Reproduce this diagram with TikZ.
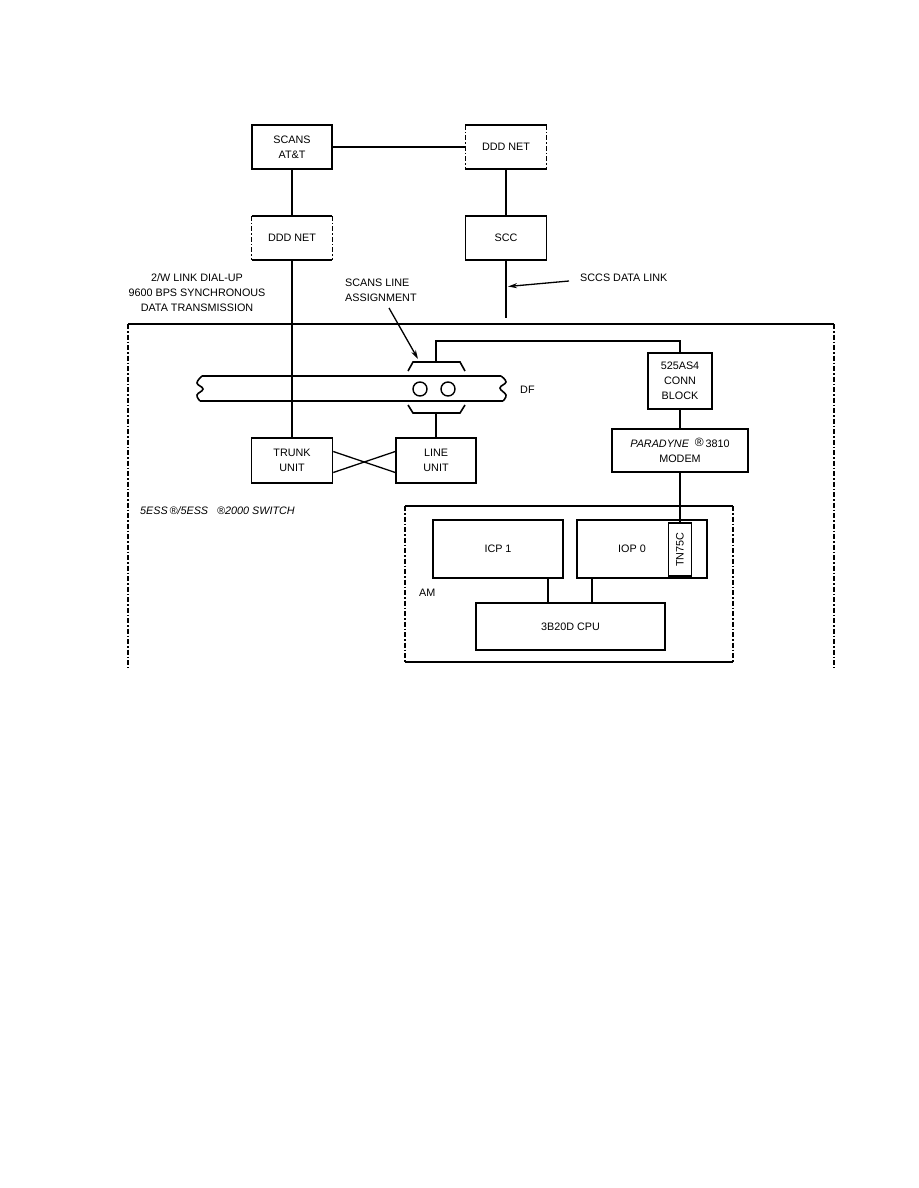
\documentclass[tikz,border=0pt]{standalone}
\usepackage{fontspec}
\setmainfont{Liberation Sans}
\usetikzlibrary{arrows.meta}
\begin{document}
\begin{tikzpicture}[x=1pt,y=-1pt,
  font=\fontsize{10.8}{15}\selectfont,
  box/.style={draw, line width=1.5pt, inner sep=1pt, align=center},
  openbox/.style={inner sep=1pt, align=center},
  conn/.style={line width=1.3pt},
  heavy/.style={line width=1.6pt},
  sidedash/.style={line width=1.3pt, dash pattern=on 5pt off 2pt on 1.5pt off 2pt},
  lbl/.style={inner sep=0pt, align=left},
  arr/.style={line width=1.3pt, -{Stealth[length=9pt,width=5pt]}}]
\useasboundingbox (0,0) rectangle (918,1188);

% top boxes
\node[box, minimum width=80pt, minimum height=44pt] (scans) at (292,147) {SCANS\\AT\&T};
\node[openbox, minimum width=81pt, minimum height=44pt] (ddda) at (506,147) {DDD NET};
\node[openbox, minimum width=80pt, minimum height=44pt] (dddb) at (292,238) {DDD NET};
\node[box, minimum width=81pt, minimum height=44pt] (scc) at (506,238) {SCC};
\foreach \n in {ddda,dddb}{
  \draw[heavy] (\n.north west) -- (\n.north east);
  \draw[heavy] (\n.south west) -- (\n.south east);
  \draw[sidedash] (\n.north west) -- (\n.south west);
  \draw[sidedash] (\n.north east) -- (\n.south east);
}
\coordinate (sccend) at (506,318);
\draw[conn] (scans.east) -- (ddda.west);
\draw[conn] (scans.south) -- (dddb.north);
\draw[conn] (ddda.south) -- (scc.north);
\draw[conn] (scc.south) -- (sccend);

% labels above switch
\node[lbl, align=center] (linklbl) at (197,293) {2/W LINK DIAL-UP\\9600 BPS SYNCHRONOUS\\DATA TRANSMISSION};
\node[lbl, anchor=west] (scanslbl) at (345,290.5) {SCANS LINE\\ASSIGNMENT};
\node[lbl, anchor=west] (sccslbl) at (580,278) {SCCS DATA LINK};
\coordinate (sccsarrs) at (569,281);
\coordinate (sccsarre) at (508,286.5);
\draw[arr] (sccsarrs) -- (sccsarre);
\coordinate (scansarrs) at (389,308);
\coordinate (scansarre) at (418,359);
\draw[arr] (scansarrs) -- (scansarre);

% outer switch frame
\coordinate (otl) at (128,324);
\coordinate (otr) at (834,324);
\coordinate (obl) at (128,668);
\coordinate (obr) at (834,668);
\draw[heavy] (otl) -- (otr);
\draw[sidedash] (otl) -- (obl);
\draw[sidedash] (otr) -- (obr);

% DF strip
\draw[heavy] (202,376) -- (501,376);
\draw[heavy] (200,401) -- (503,401);
\draw[heavy] plot[smooth, tension=0.7] coordinates {(202,376) (197,383) (203,389) (197,395) (200,401)};
\draw[heavy] plot[smooth, tension=0.7] coordinates {(501,376) (506,382) (500,388) (506,395) (503,401)};
\node[lbl, anchor=west] (dflbl) at (520,390) {DF};
\node[draw, circle, line width=1.4pt, minimum size=14pt, inner sep=0pt] (ca) at (420,389) {};
\node[draw, circle, line width=1.4pt, minimum size=14pt, inner sep=0pt] (cb) at (448,389) {};
% connector bracket
\draw[heavy] (408,371) -- (413,362) -- (460,362) -- (465,371);
\draw[heavy] (408,405) -- (413,413) -- (460,413) -- (465,405);
\coordinate (cbtop) at (436,362);
\coordinate (cbbot) at (436,413);

% trunk & line units
\node[box, minimum width=81pt, minimum height=45pt] (trunk) at (292,460.5) {TRUNK\\UNIT};
\node[box, minimum width=80pt, minimum height=45pt] (lineu) at (436,460.5) {LINE\\UNIT};
\draw[conn] (dddb.south) -- (trunk.north);
\draw[conn] (cbbot) -- (lineu.north);
\draw[conn] ([yshift=9pt]trunk.east) -- ([yshift=-12pt]lineu.west);
\draw[conn] ([yshift=-12pt]trunk.east) -- ([yshift=9pt]lineu.west);

% 525AS4 & modem
\node[box, minimum width=64pt, minimum height=56pt] (blk) at (680,381) {525AS4\\CONN\\BLOCK};
\node[box, minimum width=136pt, minimum height=43pt] (modem) at (680,450.5) {{\itshape PARADYNE}\ \ \raisebox{1pt}{\large ®}\,3810\\MODEM};
\draw[conn] (cbtop) -- ++(0,-21) -| (blk.north);
\draw[conn] (blk.south) -- (modem.north);

% switch label
\node[lbl, anchor=west] (swlbl) at (140,511) {\itshape 5ESS\,®/5ESS\ \ \ ®2000 SWITCH};

% AM frame
\coordinate (atl) at (405,506);
\coordinate (atr) at (733,506);
\coordinate (abl) at (405,662);
\coordinate (abr) at (733,662);
\draw[heavy] (atl) -- (atr);
\draw[heavy] (abl) -- (abr);
\draw[sidedash] (atl) -- (abl);
\draw[sidedash] (atr) -- (abr);
\node[lbl, anchor=west] (amlbl) at (419,593) {AM};

\node[box, minimum width=130pt, minimum height=58pt] (icp) at (498,549) {ICP 1};
\node[box, minimum width=130pt, minimum height=58pt] (iop) at (642,549) {};
\node[lbl] (ioplbl) at (632,549) {IOP 0};
\node[box, line width=1.2pt, minimum width=23pt, minimum height=53pt] (tn) at (680,549.5) {};
\node[lbl, rotate=90] (tnlbl) at (680,549.5) {TN75C};
\node[box, minimum width=189pt, minimum height=47pt] (cpu) at (570.5,626.5) {3B20D CPU};
\draw[conn] (modem.south) -- (tn.north);
\draw[conn] ([xshift=50pt]icp.south) -- ([xshift=50pt]icp.south |- cpu.north);
\draw[conn] ([xshift=-50pt]iop.south) -- ([xshift=-50pt]iop.south |- cpu.north);
\end{tikzpicture}
\end{document}
